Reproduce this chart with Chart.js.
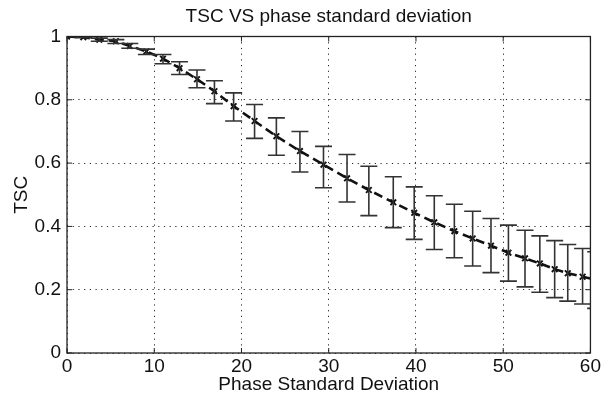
<!DOCTYPE html>
<html>
<head>
<meta charset="utf-8">
<script src="https://cdn.jsdelivr.net/npm/chart.js@4/dist/chart.umd.min.js"></script>
<style>
  html, body { margin: 0; padding: 0; background: #fff; }
</style>
</head>
<body>
<canvas id="tscChart" width="603" height="400"></canvas>
<script>
// TSC against phase standard deviation, mean with +/- error bars
const phaseStd = [0, 1.87, 3.7, 5.6, 7.2, 9.1, 11.0, 12.9, 14.9, 16.9, 19.1, 21.5, 24.0, 26.7, 29.4,
                  32.1, 34.6, 37.4, 39.8, 42.1, 44.4, 46.5, 48.6, 50.6, 52.5, 54.2, 55.9, 57.4, 59.1, 60.6];
const tscMean  = [1.0, 0.998, 0.99, 0.985, 0.97, 0.953, 0.93, 0.90, 0.865, 0.827, 0.78, 0.733, 0.685, 0.638, 0.595,
                  0.552, 0.515, 0.476, 0.443, 0.413, 0.385, 0.362, 0.339, 0.317, 0.299, 0.283, 0.265, 0.252, 0.241, 0.232];
const tscUpper = [1.0, 1.0, 0.995, 0.99, 0.978, 0.96, 0.943, 0.92, 0.894, 0.86, 0.822, 0.785, 0.743, 0.70, 0.653,
                  0.627, 0.59, 0.557, 0.525, 0.497, 0.47, 0.448, 0.425, 0.404, 0.388, 0.37, 0.355, 0.343, 0.33, 0.32];
const tscLower = [1.0, 0.996, 0.985, 0.978, 0.963, 0.943, 0.914, 0.88, 0.838, 0.788, 0.733, 0.678, 0.625, 0.572, 0.522,
                  0.477, 0.434, 0.396, 0.359, 0.327, 0.301, 0.275, 0.254, 0.227, 0.209, 0.192, 0.175, 0.164, 0.155, 0.141];
const xTicks = [0, 10, 20, 30, 40, 50, 60];
const yTicks = [0, 0.2, 0.4, 0.6, 0.8, 1];
const titleText = 'TSC VS phase standard deviation';

const FONT = 'Liberation Sans, Arial, Helvetica, sans-serif';
const FS = 19;

// vertical bars with end caps, clipped to the plot box
const errorBars = {
  id: 'errorBars',
  afterDatasetsDraw(chart) {
    const { ctx, chartArea: a, scales: { x, y } } = chart;
    ctx.save();
    ctx.beginPath();
    ctx.rect(a.left, a.top, a.right - a.left, a.bottom - a.top);
    ctx.clip();
    ctx.strokeStyle = '#333';
    ctx.lineWidth = 1.6;
    const cap = 8.5;
    phaseStd.forEach((v, i) => {
      const px = x.getPixelForValue(v);
      const hi = y.getPixelForValue(tscUpper[i]);
      const lo = y.getPixelForValue(tscLower[i]);
      ctx.beginPath();
      ctx.moveTo(px, hi); ctx.lineTo(px, lo);
      ctx.moveTo(px - cap, hi); ctx.lineTo(px + cap, hi);
      ctx.moveTo(px - cap, lo); ctx.lineTo(px + cap, lo);
      ctx.stroke();
    });
    ctx.restore();
  }
};

// full box with inward tick marks on all four sides, title centred over the axes
const frame = {
  id: 'frame',
  afterDraw(chart) {
    const { ctx, chartArea: a, scales: { x, y } } = chart;
    ctx.save();
    ctx.strokeStyle = '#222';
    ctx.lineWidth = 1.3;
    ctx.strokeRect(a.left, a.top, a.right - a.left, a.bottom - a.top);
    ctx.lineWidth = 1;
    ctx.beginPath();
    xTicks.forEach(t => {
      const px = x.getPixelForValue(t);
      ctx.moveTo(px, a.bottom); ctx.lineTo(px, a.bottom - 5);
      ctx.moveTo(px, a.top); ctx.lineTo(px, a.top + 5);
    });
    yTicks.forEach(t => {
      const py = y.getPixelForValue(t);
      ctx.moveTo(a.left, py); ctx.lineTo(a.left + 5, py);
      ctx.moveTo(a.right, py); ctx.lineTo(a.right - 5, py);
    });
    ctx.stroke();

    ctx.fillStyle = '#111';
    ctx.font = FS + 'px ' + FONT;
    ctx.textAlign = 'center';
    ctx.textBaseline = 'alphabetic';
    ctx.fillText(titleText, (a.left + a.right) / 2, 22);
    ctx.restore();
  }
};

new Chart(document.getElementById('tscChart'), {
  type: 'line',
  data: {
    datasets: [{
      data: phaseStd.map((v, i) => ({ x: v, y: tscMean[i] })),
      borderColor: '#111',
      borderWidth: 2.6,
      borderDash: [9, 5],
      pointStyle: 'crossRot',
      pointRadius: 4,
      pointBorderWidth: 1.9,
      pointBorderColor: '#111',
      tension: 0,
      fill: false,
    }],
  },
  options: {
    responsive: false,
    animation: false,
    devicePixelRatio: 1,
    layout: { padding: { top: 36.5, right: 11, left: 0, bottom: 0 } },
    plugins: {
      legend: { display: false },
      tooltip: { enabled: false },
      title: { display: false },
    },
    scales: {
      x: {
        type: 'linear',
        min: 0, max: 60,
        afterBuildTicks: s => { s.ticks = xTicks.map(v => ({ value: v })); },
        afterFit: s => { s.height = 47; },
        ticks: { color: '#111', font: { family: FONT, size: FS }, padding: 2, maxRotation: 0 },
        grid: { color: 'rgba(0,0,0,0.85)', lineWidth: 1, drawTicks: false },
        border: { display: false, dash: [1.2, 4.5] },
        title: { display: true, text: 'Phase Standard Deviation', color: '#111', font: { family: FONT, size: FS }, padding: { top: 0, bottom: 4 } },
      },
      y: {
        min: 0, max: 1,
        afterBuildTicks: s => { s.ticks = yTicks.map(v => ({ value: v })); },
        afterFit: s => { s.width = 67; },
        ticks: {
          color: '#111', font: { family: FONT, size: FS }, padding: 6,
          callback: v => String(Math.round(v * 10) / 10),
        },
        grid: { color: 'rgba(0,0,0,0.85)', lineWidth: 1, drawTicks: false },
        border: { display: false, dash: [1.2, 4.5] },
        title: { display: true, text: 'TSC', color: '#111', font: { family: FONT, size: FS }, padding: { top: 10, bottom: 0 } },
      },
    },
  },
  plugins: [errorBars, frame],
});
</script>
</body>
</html>
